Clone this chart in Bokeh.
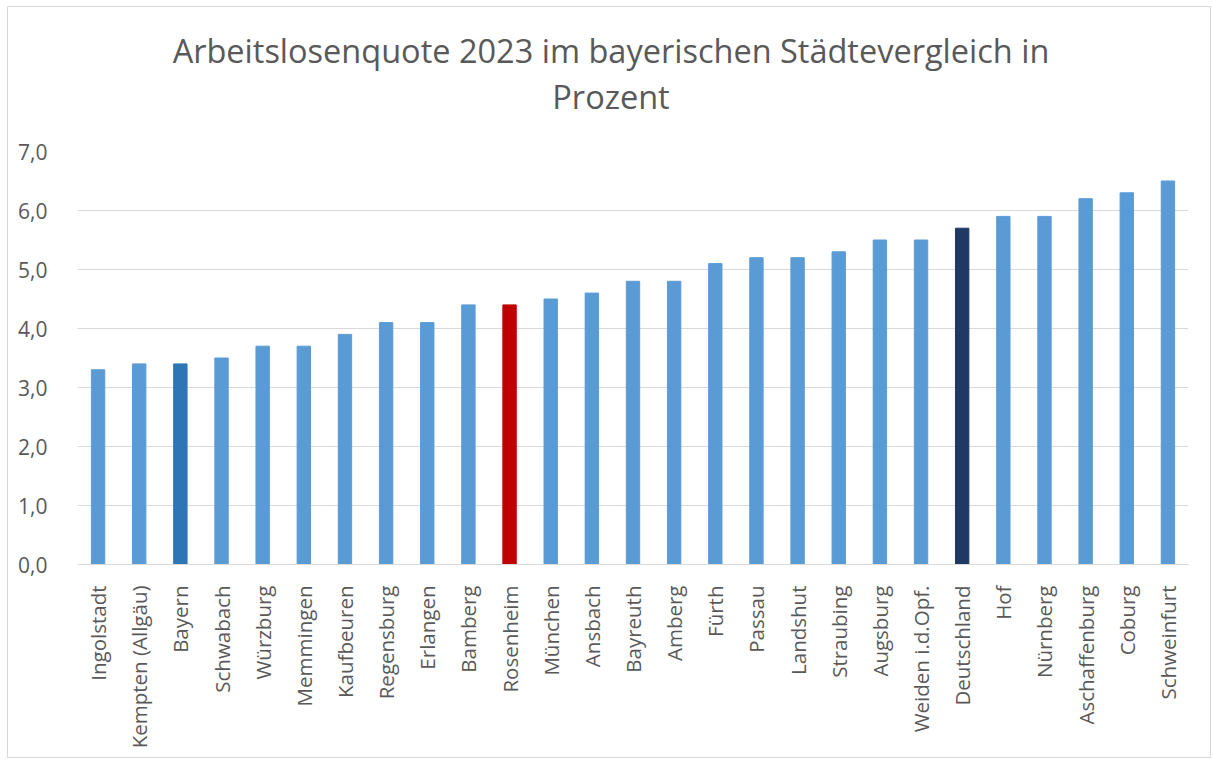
import math
from bokeh.plotting import figure
from bokeh.models import ColumnDataSource, FactorRange, Range1d, FixedTicker, Div
from bokeh.layouts import column
from bokeh.embed import file_html
from bokeh.resources import INLINE

cities = ["Ingolstadt", "Kempten (Allgäu)", "Bayern", "Schwabach", "Würzburg", "Memmingen",
          "Kaufbeuren", "Regensburg", "Erlangen", "Bamberg", "Rosenheim", "München", "Ansbach",
          "Bayreuth", "Amberg", "Fürth", "Passau", "Landshut", "Straubing", "Augsburg",
          "Weiden i.d.Opf.", "Deutschland", "Hof", "Nürnberg", "Aschaffenburg", "Coburg",
          "Schweinfurt"]
quote = [3.3, 3.4, 3.4, 3.5, 3.7, 3.7, 3.9, 4.1, 4.1, 4.4, 4.4, 4.5, 4.6, 4.8, 4.8, 5.1,
         5.2, 5.2, 5.3, 5.5, 5.5, 5.7, 5.9, 5.9, 6.2, 6.3, 6.5]
y_ticks = [0, 1, 2, 3, 4, 5, 6, 7]
y_tick_labels = ["0,0", "1,0", "2,0", "3,0", "4,0", "5,0", "6,0", "7,0"]

base_color = "#5B9BD5"
highlight = {"Bayern": "#2E75B6", "Rosenheim": "#C00000", "Deutschland": "#1F3864"}
colors = [highlight.get(c, base_color) for c in cities]

src = ColumnDataSource(dict(x=cities, y=quote, color=colors))

FONT = "Open Sans"
GREY = "#595959"

title = Div(
    text="Arbeitslosenquote 2023 im bayerischen Städtevergleich in<br>Prozent",
    width=1202, height=124, margin=0,
    styles={"font-family": FONT, "font-size": "32.5px", "color": GREY,
            "text-align": "center", "line-height": "46px", "padding-top": "21px",
            "padding-left": "4px", "box-sizing": "border-box"},
)

p = figure(x_range=FactorRange(*cities), y_range=Range1d(0, 7),
           width=1202, height=626, output_backend="svg", toolbar_location=None,
           min_border_left=69, min_border_right=22, min_border_top=20, min_border_bottom=193,
           margin=0)
p.vbar(x="x", top="y", width=0.325, color="color", source=src)

p.outline_line_color = None
p.xgrid.grid_line_color = None
p.ygrid.grid_line_color = "#D9D9D9"
p.ygrid.grid_line_width = 1
p.yaxis.ticker = FixedTicker(ticks=y_ticks)
p.ygrid.ticker = FixedTicker(ticks=y_ticks)
p.yaxis.major_label_overrides = {t: l for t, l in zip(y_ticks, y_tick_labels)}
p.yaxis.axis_line_color = None
p.yaxis.major_tick_line_color = None
p.yaxis.minor_tick_line_color = None
p.yaxis.major_label_standoff = 24
p.yaxis.major_label_text_font = FONT
p.yaxis.major_label_text_font_size = "21px"
p.yaxis.major_label_text_color = GREY

p.xaxis.axis_line_color = "#D9D9D9"
p.xaxis.axis_line_width = 1
p.xaxis.major_tick_line_color = None
p.xaxis.minor_tick_line_color = None
p.xaxis.major_label_orientation = math.pi / 2
p.xaxis.major_label_standoff = 15
p.xaxis.major_label_text_font = FONT
p.xaxis.major_label_text_font_size = "20.5px"
p.xaxis.major_label_text_color = GREY

layout = column(title, p, spacing=0, margin=(6, 0, 0, 7),
                styles={"border": "1px solid #D9D9D9"})

open("out.html", "w").write(file_html(layout, INLINE))
